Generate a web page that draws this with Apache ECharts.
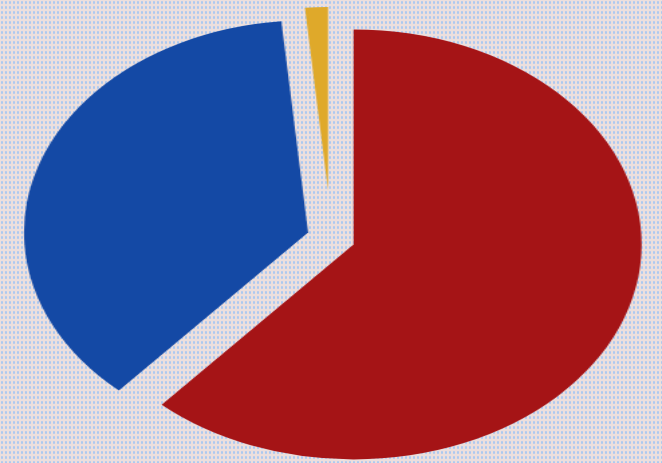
<!DOCTYPE html>
<html>
<head>
<meta charset="utf-8">
<script src="https://cdn.jsdelivr.net/npm/echarts@6/dist/echarts.min.js"></script>
<style>
  html, body { margin: 0; padding: 0; width: 662px; height: 463px; overflow: hidden; }
  body {
    background-color: #ecdfdd;
    background-image: radial-gradient(circle, #acc9f0 1.0px, rgba(172,201,240,0) 1.5px);
    background-size: 4px 5px;
  }
  #chart { position: absolute; left: 0; top: 0; width: 494px; height: 463px;
           transform: scaleX(1.34); transform-origin: 0 0; }
</style>
</head>
<body>
<div id="chart"></div>
<script>
// Data (share of the whole, %)
const categories = ['Red', 'Blue', 'Yellow'];
const values = [61.6, 36.9, 1.5];
const colors = ['#a51416', '#1449a5', '#dfa92a'];
// explode distance and radius for each slice
const offsets = [18, 18, 48];
const radii = [215, 212, 183];

const chart = echarts.init(document.getElementById('chart'), null, { renderer: 'canvas' });

// One pie series per slice so every slice can have its own explode distance;
// the other slices in each series are left invisible.
const series = categories.map((name, k) => ({
  type: 'pie',
  center: [247, 238],
  radius: [0, radii[k]],
  startAngle: 90,
  clockwise: true,
  selectedMode: 'multiple',
  selectedOffset: offsets[k],
  avoidLabelOverlap: false,
  label: { show: false },
  labelLine: { show: false },
  emphasis: { disabled: true },
  silent: true,
  animation: false,
  data: categories.map((c, i) => ({
    name: c,
    value: values[i],
    selected: i === k,
    itemStyle: i === k ? { color: colors[i], borderWidth: 0 } : { color: 'rgba(0,0,0,0)', borderWidth: 0 }
  }))
}));

chart.setOption({
  backgroundColor: 'transparent',
  animation: false,
  tooltip: { show: false },
  legend: { show: false },
  series: series
});
</script>
</body>
</html>
